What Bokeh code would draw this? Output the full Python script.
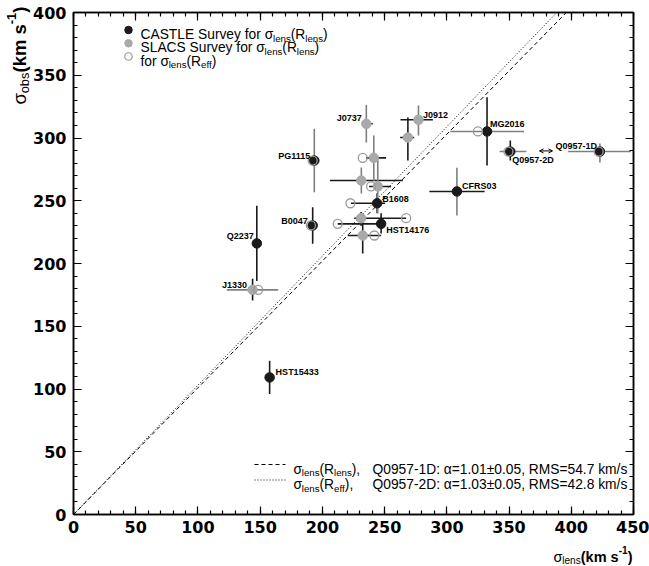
import math
from bokeh.plotting import figure
from bokeh.models import Label, LinearAxis, Range1d, ColumnDataSource, FixedTicker, Arrow, OpenHead
from bokeh.core.properties import value
from bokeh.embed import file_html
from bokeh.resources import INLINE

nan = float("nan")

# ---------------- data ----------------
names = ["Q2237", "HST15433", "B0047", "PG1115", "B1608", "HST14176", "CFRS03", "MG2016",
         "Q0957-2D", "Q0957-1D",
         "J1330", "J0737", "", "", "", "", "", "J0912", ""]
survey = ["CASTLE"] * 10 + ["SLACS"] * 9
sig_lens = [147.3, 157.6, 192.2, 193.5, 244.0, 247.2, 308.1, 332.3, 351.0, 423.0,
            143.9, 235.3, 241.3, 231.3, 244.5, 231.1, 232.4, 277.2, 268.7]
sig_lens_lo = [147.3, 157.6, 189.5, 190.0, 223.0, 212.3, 286.0, 302.7, 342.4, 397.5,
               123.2, 231.9, 235.1, 206.1, 237.5, 225.5, 220.4, 262.7, 262.5]
sig_lens_hi = [147.3, 157.6, 195.0, 197.0, 250.4, 250.0, 330.4, 362.1, 363.9, 447.9,
               164.5, 240.5, 251.2, 264.7, 255.2, 267.3, 247.2, 288.8, 273.8]
sig_obs = [216.0, 109.2, 230.3, 282.0, 248.0, 231.6, 257.4, 305.2, 289.2, 289.2,
           179.0, 311.3, 284.2, 266.1, 261.4, 236.1, 222.3, 314.5, 300.4]
sig_obs_lo = [186.0, 96.0, 215.7, 256.8, 240.0, 224.0, 238.2, 278.1, 282.0, 280.5,
              170.5, 296.4, 266.0, 255.8, 240.0, 230.0, 208.0, 302.0, 282.1]
sig_obs_hi = [246.0, 122.5, 244.9, 307.3, 256.0, 240.0, 276.3, 332.5, 298.0, 295.6,
              187.8, 326.3, 302.0, 276.5, 284.0, 241.0, 239.8, 325.9, 316.3]
sig_lens_eff = [nan, nan, 190.8, 192.2, 222.5, 212.3, nan, 325.0, 349.5, 422.0,
                148.4, nan, 232.4, nan, 239.1, 267.3, 241.8, nan, nan]

fit_names = ["Q0957-1D", "Q0957-2D"]
fit_alpha = [1.01, 1.03]
fit_alpha_err = [0.05, 0.05]
fit_rms = [54.7, 42.8]

x_ticks = list(range(0, 451, 50))
y_ticks = list(range(0, 401, 50))

# ---------------- styles ----------------
FONT = "Liberation Sans"
TICK_FONT = "DejaVu Sans"
BLK = "#1a1a1a"
GRY = "#a9a9a9"
ERR_GRY = "#7f7f7f"
OPEN_GRY = "#9a9a9a"
hcol = ["k", "k", "k", "k", "k", "k", "k", "g", "g", "g",
        "g", "k", "k", "k", "k", "k", "k", "k", "k"]
vcol = ["k", "k", "k", "g", "k", "k", "g", "k", "k", "g",
        "k", "g", "g", "g", "g", "k", "k", "g", "k"]
# label placement: (anchor side, dx px, dy px up)
lab_style = {
    "Q2237": ("R", -3, 7), "HST15433": ("L", 6, 5), "B0047": ("R", -5, 4),
    "PG1115": ("R", -4, 5), "B1608": ("L", 5, 4.5), "HST14176": ("L", 5, -6),
    "CFRS03": ("L", 5, 5), "MG2016": ("L", 3, 7.5), "Q0957-2D": ("L", 2, -8),
    "Q0957-1D": ("R", -3, 5.5), "J1330": ("R", -5.5, 5), "J0737": ("R", -4.5, 5.5),
    "J0912": ("L", 4.5, 5),
}

W, H = 649, 566
FL, FR, FT, FB = 73, 633, 12, 514
XMAX, YMAX = 450, 400
XS = (FR - FL) / XMAX
YS = (FB - FT) / YMAX


def xd(px):
    return (px - FL) / XS


def yd(py):
    return (FB - py) / YS


p = figure(width=W, height=H, x_range=Range1d(0, XMAX), y_range=Range1d(0, YMAX),
           output_backend="svg", toolbar_location=None,
           min_border_left=FL, min_border_right=W - FR, min_border_top=FT,
           min_border_bottom=H - FB)
p.xgrid.visible = False
p.ygrid.visible = False
p.outline_line_color = "black"
p.outline_line_width = 1.5
p.background_fill_color = "white"
p.border_fill_color = "white"

xt = FixedTicker(ticks=x_ticks, minor_ticks=list(range(0, 451, 10)))
yt = FixedTicker(ticks=y_ticks, minor_ticks=list(range(0, 401, 10)))


def style_axis(ax, labels=True):
    ax.axis_line_color = "black"
    ax.axis_line_width = 1.5
    ax.major_tick_in = 8
    ax.major_tick_out = 0
    ax.minor_tick_in = 4
    ax.minor_tick_out = 0
    ax.major_tick_line_width = 1.2
    ax.minor_tick_line_width = 1.2
    ax.major_tick_line_color = "black"
    ax.minor_tick_line_color = "black"
    if labels:
        ax.major_label_text_font = TICK_FONT
        ax.major_label_text_font_style = "bold"
        ax.major_label_text_font_size = "16px"
        ax.major_label_text_color = "black"
    else:
        ax.major_label_text_font_size = "1px"
        ax.major_label_text_alpha = 0
        ax.major_label_text_color = None
        ax.major_label_standoff = 0


p.xaxis[0].ticker = xt
p.yaxis[0].ticker = yt
style_axis(p.xaxis[0])
style_axis(p.yaxis[0])
p.xaxis[0].major_label_standoff = 6
p.yaxis[0].major_label_standoff = 7

top_ax = LinearAxis(ticker=xt)
style_axis(top_ax, False)
p.add_layout(top_ax, "above")
right_ax = LinearAxis(ticker=yt)
style_axis(right_ax, False)
p.add_layout(right_ax, "right")

# ---------------- fit lines ----------------
dashes = ["4 3", "1 2"]
for a, d in zip(fit_alpha, dashes):
    p.line([0, YMAX / a], [0, YMAX], line_color="black", line_width=1, line_dash=d)

# ---------------- error bars and points ----------------
cmap = {"k": BLK, "g": ERR_GRY}
src = ColumnDataSource(dict(
    x=sig_lens, y=sig_obs, xlo=sig_lens_lo, xhi=sig_lens_hi, ylo=sig_obs_lo, yhi=sig_obs_hi,
    xeff=sig_lens_eff,
    hc=[cmap[c] for c in hcol], vc=[cmap[c] for c in vcol],
))
p.segment(x0="xlo", y0="y", x1="xhi", y1="y", line_color="hc", line_width=1.6, source=src)
p.segment(x0="x", y0="ylo", x1="x", y1="yhi", line_color="vc", line_width=1.6, source=src)

slacs = [i for i, s in enumerate(survey) if s == "SLACS"]
castle = [i for i, s in enumerate(survey) if s == "CASTLE"]
p.scatter([sig_lens[i] for i in slacs], [sig_obs[i] for i in slacs], size=9.5,
          fill_color=GRY, line_color=GRY)
p.scatter([sig_lens[i] for i in castle], [sig_obs[i] for i in castle], size=9.5,
          fill_color=BLK, line_color=BLK)
p.scatter("xeff", "y", source=src, size=9, fill_color=None, line_color=OPEN_GRY, line_width=1.3)

# point names
for i, n in enumerate(names):
    if not n:
        continue
    side, dx, dy = lab_style[n]
    p.add_layout(Label(x=sig_lens[i], y=sig_obs[i], x_offset=dx, y_offset=dy, text=n,
                       text_font=FONT, text_font_style="bold", text_font_size="9px",
                       text_color="black", text_align="right" if side == "R" else "left",
                       text_baseline="middle"))

# double arrow between the two Q0957 images
i2, i1 = names.index("Q0957-2D"), names.index("Q0957-1D")
ay = sig_obs[i2] + 0.5
p.add_layout(Arrow(start=OpenHead(size=4, line_width=1), end=OpenHead(size=4, line_width=1),
                   x_start=xd(539), x_end=xd(552), y_start=ay, y_end=ay,
                   line_width=1, line_color="black"))

# ---------------- rich text helpers ----------------
REG = {" ": .278, "(": .333, ")": .333, ",": .278, ".": .278, ":": .278, "=": .584,
       "±": .584, "-": .333, "/": .278, "σ": .60, "α": .58,
       "A": .667, "B": .667, "C": .722, "D": .722, "E": .667, "L": .556, "M": .833,
       "Q": .778, "R": .722, "S": .667, "T": .611, "a": .556, "b": .556, "e": .556,
       "f": .278, "k": .5, "l": .222, "m": .833, "n": .556, "o": .556, "r": .333,
       "s": .5, "u": .556, "v": .5, "y": .5}
BOLD = {" ": .278, "(": .333, ")": .333, "-": .333, "k": .556, "m": .889, "s": .556}


def tw(s, size, bold):
    t = BOLD if bold else REG
    return sum(t.get(c, 0.556) for c in s) * size


def piece_sizes(parts, size):
    sizes = [size * 0.7 if k != "n" else size for _, k, _ in parts]
    widths = [tw(t, s, b) for (t, k, b), s in zip(parts, sizes)]
    return sizes, widths


SHIFT = {"n": 0.0, "sub": -0.27, "sup": 0.42}


def rich(x, y, parts, size):
    """Labels inside the frame (left aligned at data point x, y = baseline)."""
    sizes, widths = piece_sizes(parts, size)
    off = 0.0
    for (t, k, b), s, w in zip(parts, sizes, widths):
        p.add_layout(Label(x=x, y=y, x_offset=off, y_offset=SHIFT[k] * size, text=t,
                           text_font=FONT, text_font_size=f"{s:.1f}px",
                           text_font_style="bold" if b else "normal", text_color="black",
                           text_align="left", text_baseline="alphabetic"))
        off += w


# axis titles live outside the frame: drawn as an overlay-level text glyph
T = dict(x=[], y=[], xo=[], yo=[], text=[], fs=[], fst=[], ang=[])


def title_x(parts, size, right_px, base_px):
    sizes, widths = piece_sizes(parts, size)
    pos = right_px - sum(widths)
    for (t, k, b), s, w in zip(parts, sizes, widths):
        T["x"].append(xd(pos)); T["y"].append(0.0)
        T["xo"].append(0.0); T["yo"].append(base_px - FB - SHIFT[k] * size)
        T["text"].append(t); T["fs"].append(f"{s:.1f}px")
        T["fst"].append("bold" if b else "normal"); T["ang"].append(0.0)
        pos += w


def title_y(parts, size, top_px, base_px):
    sizes, widths = piece_sizes(parts, size)
    pos = top_px + sum(widths)
    for (t, k, b), s, w in zip(parts, sizes, widths):
        T["x"].append(0.0); T["y"].append(yd(pos))
        T["xo"].append(base_px - FL - SHIFT[k] * size); T["yo"].append(0.0)
        T["text"].append(t); T["fs"].append(f"{s:.1f}px")
        T["fst"].append("bold" if b else "normal"); T["ang"].append(math.pi / 2)
        pos -= w


# ---------------- legend (top left) ----------------
leg_rows = [29.5, 42.8, 56.0]
leg_size = 13.8
p.scatter([xd(128)], [yd(leg_rows[0])], size=7.5, fill_color=BLK, line_color=BLK)
p.scatter([xd(128)], [yd(leg_rows[1])], size=7.5, fill_color=GRY, line_color=GRY)
p.scatter([xd(128)], [yd(leg_rows[2])], size=7.5, fill_color=None, line_color=OPEN_GRY,
          line_width=1.2)
leg_texts = [
    [("CASTLE Survey for ", "n", False), ("σ", "n", False), ("lens", "sub", False),
     ("(R", "n", False), ("lens", "sub", False), (")", "n", False)],
    [("SLACS Survey for ", "n", False), ("σ", "n", False), ("lens", "sub", False),
     ("(R", "n", False), ("lens", "sub", False), (")", "n", False)],
    [("for ", "n", False), ("σ", "n", False), ("lens", "sub", False),
     ("(R", "n", False), ("eff", "sub", False), (")", "n", False)],
]
for row, parts in zip(leg_rows, leg_texts):
    rich(xd(140), yd(row + 4.6), parts, leg_size)

# ---------------- legend (bottom right) ----------------
bl_rows = [464.0, 479.5]
bl_size = 13.8
for row, d, a, ae, r, nm, sub in zip(bl_rows, dashes, fit_alpha, fit_alpha_err, fit_rms,
                                     fit_names, ["lens", "eff"]):
    p.line([xd(254), xd(285)], [yd(row), yd(row)], line_color="black", line_width=1,
           line_dash=d)
    rich(xd(293), yd(row + 4.7), [("σ", "n", False), ("lens", "sub", False), ("(R", "n", False),
                                  (sub, "sub", False), ("),", "n", False)], bl_size)
    rich(xd(372), yd(row + 4.7),
         [(f"{nm}: α={a:.2f}±{ae:.2f}, RMS={r:.1f} km/s", "n", False)], bl_size)

# ---------------- axis titles ----------------
title_x([("σ", "n", False), ("lens", "sub", False), ("(km s", "n", True),
         ("-1", "sup", True), (")", "n", True)], 14.5, 632, 556)
title_y([("σ", "n", False), ("obs", "sub", False), ("(km s", "n", True),
         ("-1", "sup", True), (")", "n", True)], 18.5, 6, 19)
p.text(x="x", y="y", x_offset="xo", y_offset="yo", text="text", angle="ang",
       text_font=value(FONT), text_font_size="fs", text_font_style="fst",
       text_color="black", text_align="left", text_baseline="alphabetic",
       source=ColumnDataSource(T), level="overlay")

open("out.html", "w").write(file_html(p, INLINE))
